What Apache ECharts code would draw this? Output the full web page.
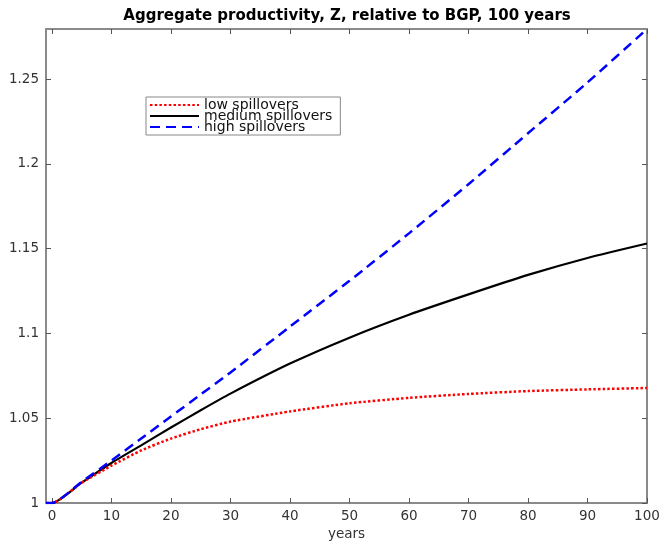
<!DOCTYPE html>
<html>
<head>
<meta charset="utf-8">
<script src="https://cdn.jsdelivr.net/npm/echarts@6/dist/echarts.min.js"></script>
<style>html,body{margin:0;padding:0;background:#fff}#c{width:663px;height:541px}</style>
</head>
<body>
<div id="c"></div>
<script>
const years     = [-1, 0, 5, 10, 15, 20, 25, 30, 40, 50, 60, 70, 80, 90, 100];
const lowSpill  = [1, 1, 1.012, 1.022, 1.031, 1.038, 1.0435, 1.048, 1.054, 1.0588, 1.062, 1.0643, 1.066, 1.067, 1.0678];
const medSpill  = [1, 1, 1.012, 1.0236, 1.034, 1.0445, 1.0547, 1.0645, 1.0822, 1.0975, 1.111, 1.123, 1.1345, 1.1445, 1.153];
const highSpill = [1, 1, 1.0125, 1.025, 1.038, 1.051, 1.064, 1.077, 1.104, 1.131, 1.159, 1.188, 1.218, 1.248, 1.2795];
const xTicks = [0, 10, 20, 30, 40, 50, 60, 70, 80, 90, 100];
const yTicks = [1, 1.05, 1.1, 1.15, 1.2, 1.25];
const seriesNames = ['low spillovers', 'medium spillovers', 'high spillovers'];

const FONT = 'DejaVu Sans';
const axisColor = '#8a8a8a';
function pairs(v) { return years.map((x, i) => [x, v[i]]); }

const chart = echarts.init(document.getElementById('c'), null, {renderer: 'canvas'});
const baseX = {
  type: 'value', min: -1, max: 100,
  axisLine: {show: true, onZero: false, lineStyle: {color: axisColor, width: 2}},
  axisTick: {show: true, inside: true, length: 5, customValues: xTicks, lineStyle: {color: '#555', width: 1}},
  splitLine: {show: false}
};
const baseY = {
  type: 'value', min: 1, max: 1.2795,
  axisLine: {show: true, onZero: false, lineStyle: {color: axisColor, width: 2}},
  axisTick: {show: true, inside: true, length: 5, customValues: yTicks, lineStyle: {color: '#555', width: 1}},
  splitLine: {show: false}
};
chart.setOption({
  animation: false,
  backgroundColor: '#fff',
  title: {
    text: 'Aggregate productivity, Z, relative to BGP, 100 years',
    left: 347, top: 9, textAlign: 'center', padding: 0,
    textStyle: {fontFamily: FONT, fontSize: 15, fontWeight: 'bold', color: '#000'}
  },
  grid: {left: 46, right: 16, top: 29, bottom: 38, containLabel: false, outerBoundsMode: 'none'},
  legend: {
    orient: 'vertical', left: 146, top: 97,
    padding: [1, 8, 1, 3], itemGap: -3, itemWidth: 49, itemHeight: 10,
    borderColor: '#888', borderWidth: 1, backgroundColor: '#fff',
    itemStyle: {opacity: 0},
    data: seriesNames,
    textStyle: {fontFamily: FONT, fontSize: 14, color: '#111'}
  },
  xAxis: [
    Object.assign({}, baseX, {
      position: 'bottom',
      name: 'years', nameLocation: 'middle', nameGap: 21,
      nameTextStyle: {fontFamily: FONT, fontSize: 13.5, color: '#333'},
      axisLabel: {show: true, customValues: xTicks, margin: 6, fontFamily: FONT, fontSize: 13.5, color: '#333'}
    }),
    Object.assign({}, baseX, {position: 'top', axisLabel: {show: false}})
  ],
  yAxis: [
    Object.assign({}, baseY, {
      position: 'left',
      axisLabel: {show: true, customValues: yTicks, margin: 7, fontFamily: FONT, fontSize: 13.5, color: '#333'}
    }),
    Object.assign({}, baseY, {position: 'right', axisLabel: {show: false}})
  ],
  series: [
    {name: seriesNames[0], type: 'line', data: pairs(lowSpill), showSymbol: false, symbol: 'none',
     smooth: 0.2, z: 3,
     lineStyle: {color: '#ff0000', width: 2.5, type: [2.5, 2.2]}, itemStyle: {color: '#ff0000'}},
    {name: seriesNames[1], type: 'line', data: pairs(medSpill), showSymbol: false, symbol: 'none',
     smooth: 0.2, z: 2,
     lineStyle: {color: '#000000', width: 2.2, type: 'solid'}, itemStyle: {color: '#000000'}},
    {name: seriesNames[2], type: 'line', data: pairs(highSpill), showSymbol: false, symbol: 'none',
     smooth: 0.2, z: 4,
     lineStyle: {color: '#0000ff', width: 2.5, type: [10, 6]}, itemStyle: {color: '#0000ff'}}
  ]
});
</script>
</body>
</html>
